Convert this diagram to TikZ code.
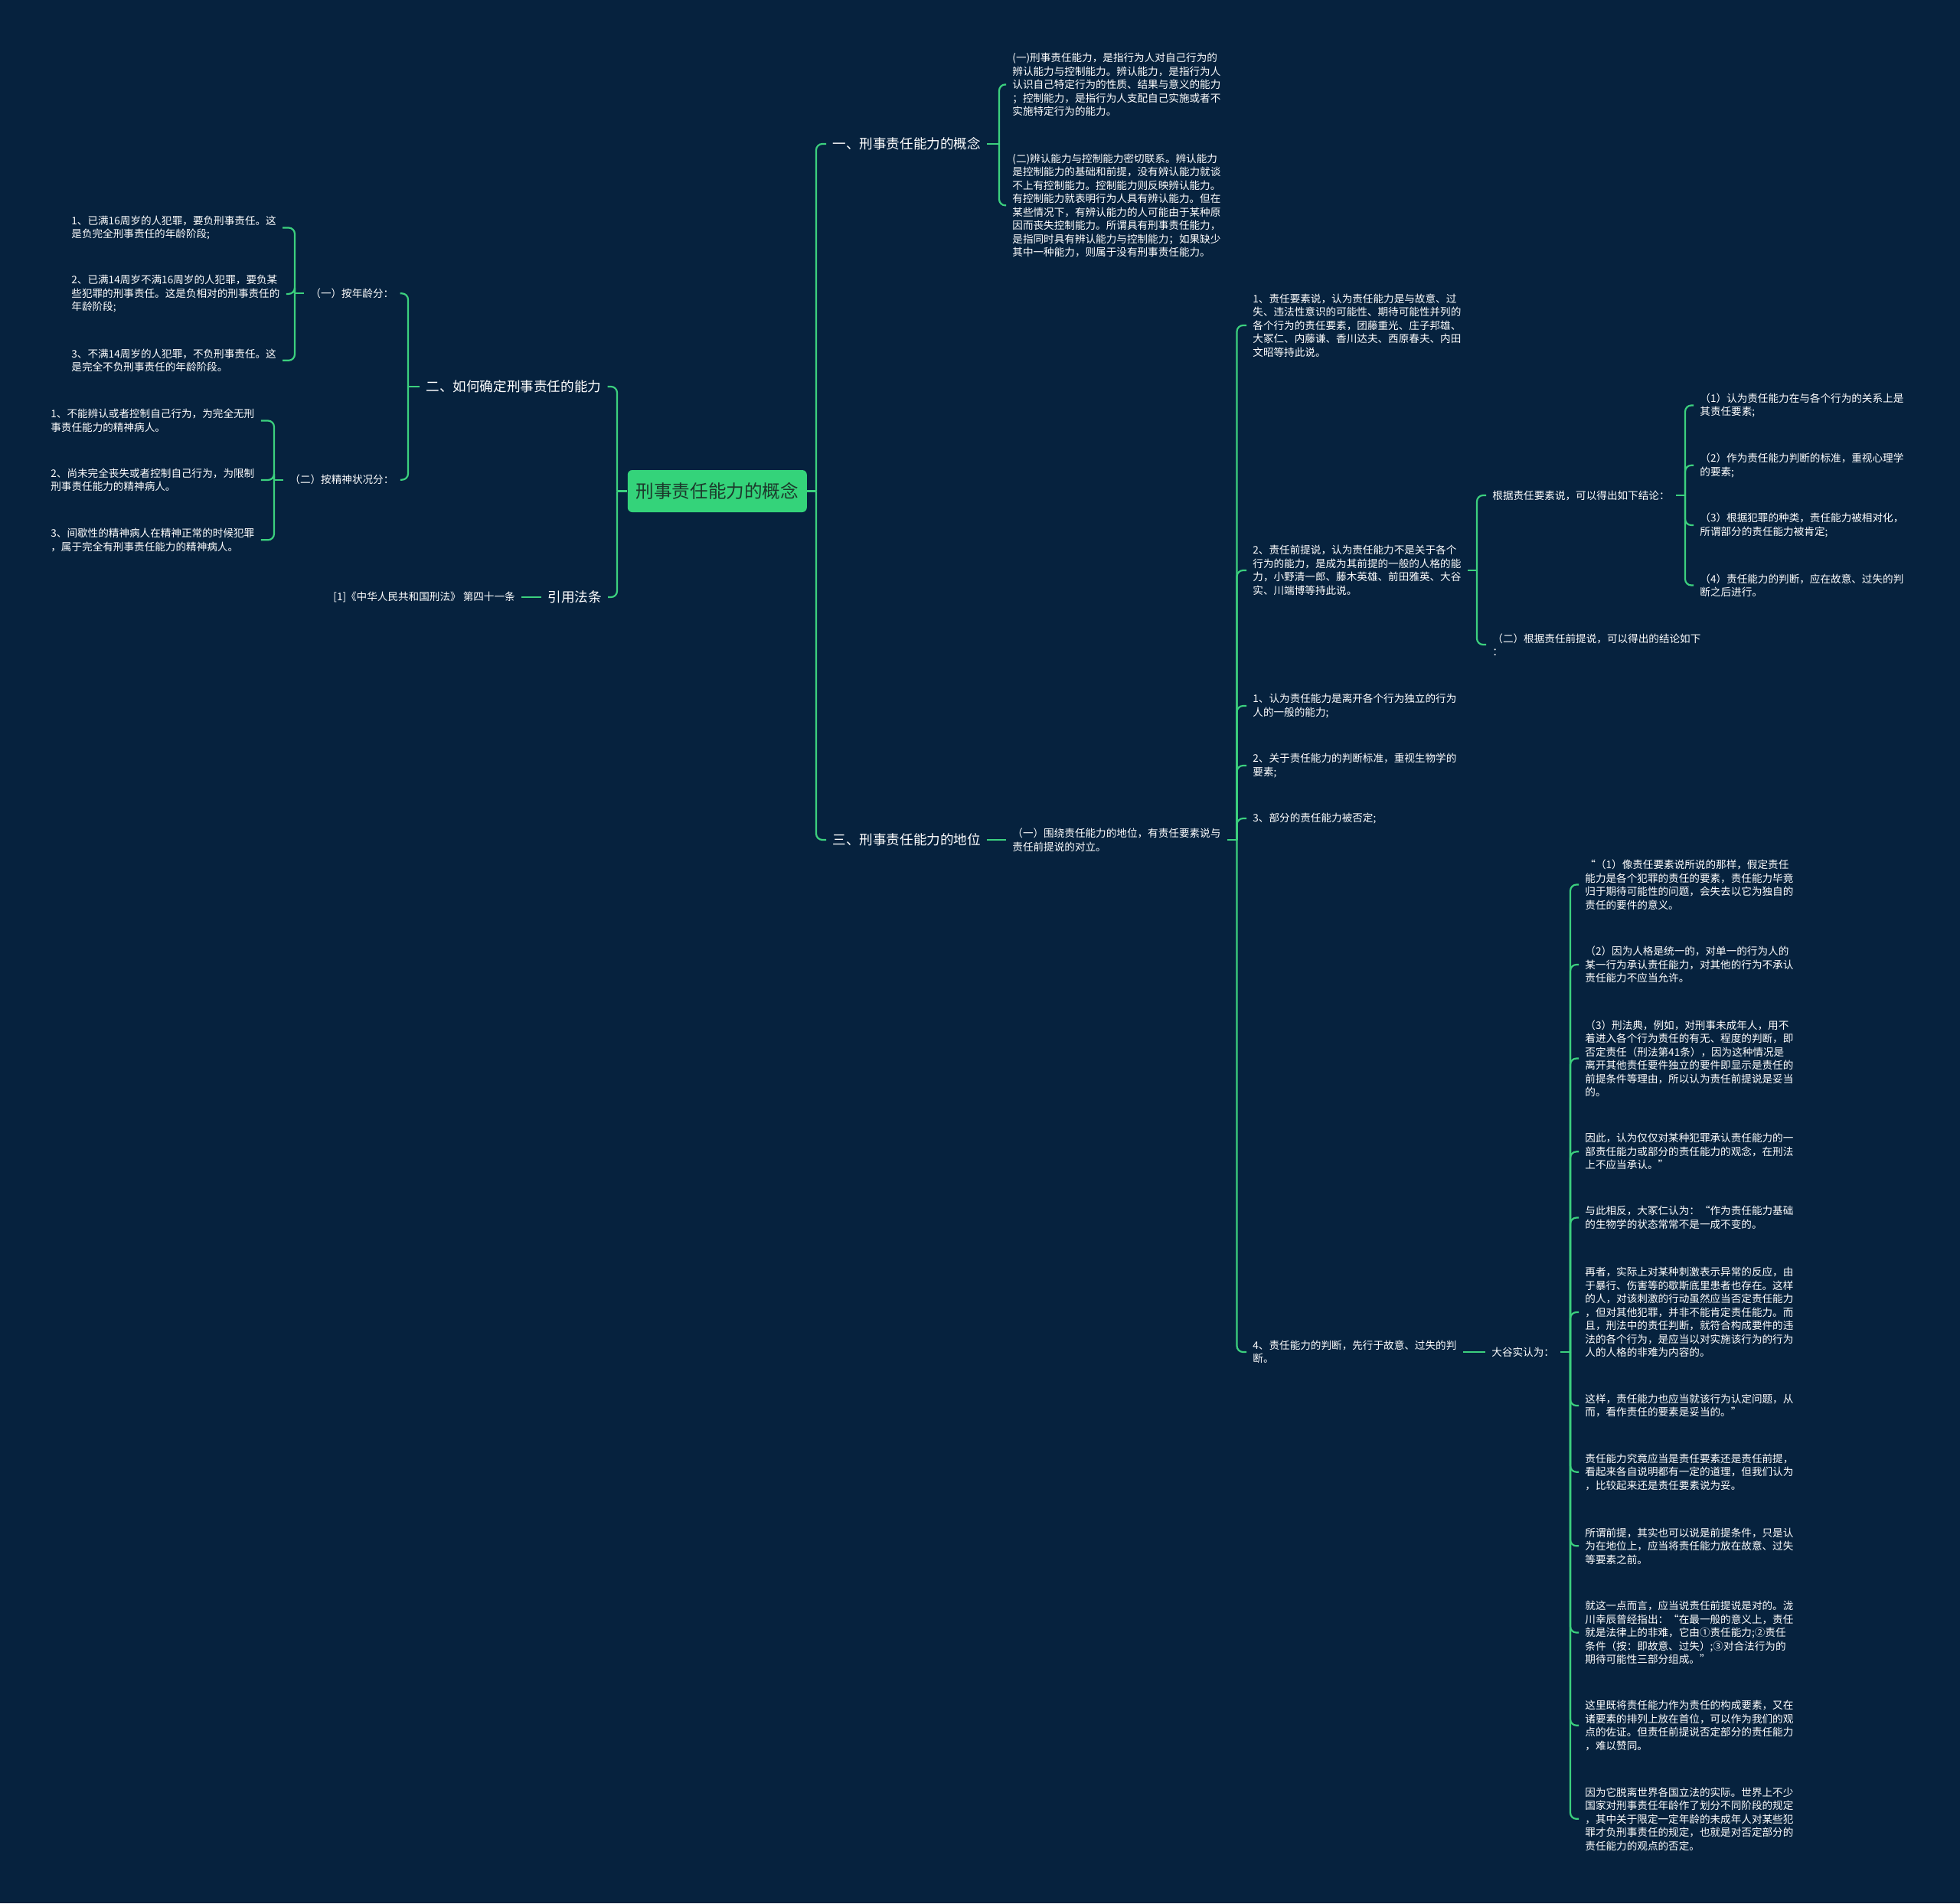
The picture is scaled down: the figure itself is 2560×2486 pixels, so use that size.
\documentclass[tikz,border=0pt]{standalone}
\usepackage{fontspec}
\setmainfont{Noto Sans CJK SC}
\definecolor{bg}{RGB}{6,34,62}
\definecolor{ln}{RGB}{60,208,126}
\definecolor{rootfill}{RGB}{52,211,122}
\definecolor{roottext}{RGB}{28,58,44}
\begin{document}
\begin{tikzpicture}[x=0.5pt,y=-0.5pt,
  txt/.style={text=white, font=\fontsize{6.8pt}{8.75pt}\selectfont, align=left, inner xsep=4pt, inner ysep=1pt, anchor=west},
  br/.style={text=white, font=\fontsize{8.8pt}{11pt}\selectfont, inner xsep=4pt, inner ysep=1pt, anchor=west},
  rootbox/.style={fill=rootfill, rounded corners=3pt, minimum width=117pt, minimum height=27.5pt, text=roottext, font=\fontsize{11.8pt}{14pt}\selectfont, inner sep=0pt},
  link/.style={draw=ln, line width=1.1pt, rounded corners=4pt}]
\fill[bg] (0,0) rectangle (2560,2486);
\useasboundingbox (0,0) rectangle (2560,2486);

% trunk x positions
\coordinate (T0) at (1066,0);
\coordinate (T1) at (1305,0);
\coordinate (T3) at (1615.5,0);
\coordinate (T4) at (1929,0);
\coordinate (T5) at (2201,0);
\coordinate (T6) at (2051,0);
\coordinate (L0) at (806,0);
\coordinate (L1) at (533,0);
\coordinate (L2) at (385,0);
\coordinate (L3) at (358,0);

\node[rootbox] (root) at (936.8,641.5) {刑事责任能力的概念};

% right side
\node[br] (b1) at (1079,188) {一、刑事责任能力的概念};
\node[br] (b3) at (1079,1097) {三、刑事责任能力的地位};

\node[txt] (c1a) at (1314,110.4) {(一)刑事责任能力，是指行为人对自己行为的\\辨认能力与控制能力。辨认能力，是指行为人\\认识自己特定行为的性质、结果与意义的能力\\；控制能力，是指行为人支配自己实施或者不\\实施特定行为的能力。};
\node[txt] (c1b) at (1314,268.3) {(二)辨认能力与控制能力密切联系。辨认能力\\是控制能力的基础和前提，没有辨认能力就谈\\不上有控制能力。控制能力则反映辨认能力。\\有控制能力就表明行为人具有辨认能力。但在\\某些情况下，有辨认能力的人可能由于某种原\\因而丧失控制能力。所谓具有刑事责任能力，\\是指同时具有辨认能力与控制能力；如果缺少\\其中一种能力，则属于没有刑事责任能力。};

\node[txt] (b3c) at (1314,1097) {（一）围绕责任能力的地位，有责任要素说与\\责任前提说的对立。};

\node[txt] (d1) at (1628,425) {1、责任要素说，认为责任能力是与故意、过\\失、违法性意识的可能性、期待可能性并列的\\各个行为的责任要素，团藤重光、庄子邦雄、\\大冢仁、内藤谦、香川达夫、西原春夫、内田\\文昭等持此说。};
\node[txt] (d2) at (1628,745) {2、责任前提说，认为责任能力不是关于各个\\行为的能力，是成为其前提的一般的人格的能\\力，小野清一郎、藤木英雄、前田雅英、大谷\\实、川端博等持此说。};
\node[txt] (d3) at (1628,922) {1、认为责任能力是离开各个行为独立的行为\\人的一般的能力;};
\node[txt] (d4) at (1628,1000) {2、关于责任能力的判断标准，重视生物学的\\要素;};
\node[txt] (d5) at (1628,1069) {3、部分的责任能力被否定;};
\node[txt] (d6) at (1628,1766) {4、责任能力的判断，先行于故意、过失的判\\断。};

\node[txt] (e1) at (1941,647) {根据责任要素说，可以得出如下结论：};
\node[txt] (e2) at (1941,842) {（二）根据责任前提说，可以得出的结论如下\\：};

\node[txt] (f1) at (2212,529.5) {（1）认为责任能力在与各个行为的关系上是\\其责任要素;};
\node[txt] (f2) at (2212,607.8) {（2）作为责任能力判断的标准，重视心理学\\的要素;};
\node[txt] (f3) at (2212,686) {（3）根据犯罪的种类，责任能力被相对化，\\所谓部分的责任能力被肯定;};
\node[txt] (f4) at (2212,764.5) {（4）责任能力的判断，应在故意、过失的判\\断之后进行。};

\node[txt] (g) at (1940,1766) {大谷实认为：};

\node[txt] (h1) at (2062,1155.5) {“（1）像责任要素说所说的那样，假定责任\\能力是各个犯罪的责任的要素，责任能力毕竟\\归于期待可能性的问题，会失去以它为独自的\\责任的要件的意义。};
\node[txt] (h2) at (2062,1260) {（2）因为人格是统一的，对单一的行为人的\\某一行为承认责任能力，对其他的行为不承认\\责任能力不应当允许。};
\node[txt] (h3) at (2062,1382.5) {（3）刑法典，例如，对刑事未成年人，用不\\着进入各个行为责任的有无、程度的判断，即\\否定责任（刑法第41条），因为这种情况是\\离开其他责任要件独立的要件即显示是责任的\\前提条件等理由，所以认为责任前提说是妥当\\的。};
\node[txt] (h4) at (2062,1504.3) {因此，认为仅仅对某种犯罪承认责任能力的一\\部责任能力或部分的责任能力的观念，在刑法\\上不应当承认。”};
\node[txt] (h5) at (2062,1590.5) {与此相反，大冢仁认为：“作为责任能力基础\\的生物学的状态常常不是一成不变的。};
\node[txt] (h6) at (2062,1714) {再者，实际上对某种刺激表示异常的反应，由\\于暴行、伤害等的歇斯底里患者也存在。这样\\的人，对该刺激的行动虽然应当否定责任能力\\，但对其他犯罪，并非不能肯定责任能力。而\\且，刑法中的责任判断，就符合构成要件的违\\法的各个行为，是应当以对实施该行为的行为\\人的人格的非难为内容的。};
\node[txt] (h7) at (2062,1836) {这样，责任能力也应当就该行为认定问题，从\\而，看作责任的要素是妥当的。”};
\node[txt] (h8) at (2062,1922.7) {责任能力究竟应当是责任要素还是责任前提，\\看起来各自说明都有一定的道理，但我们认为\\，比较起来还是责任要素说为妥。};
\node[txt] (h9) at (2062,2019.3) {所谓前提，其实也可以说是前提条件，只是认\\为在地位上，应当将责任能力放在故意、过失\\等要素之前。};
\node[txt] (h10) at (2062,2132.5) {就这一点而言，应当说责任前提说是对的。泷\\川幸辰曾经指出：“在最一般的意义上，责任\\就是法律上的非难，它由①责任能力;②责任\\条件（按：即故意、过失）;③对合法行为的\\期待可能性三部分组成。”};
\node[txt] (h11) at (2062,2253.7) {这里既将责任能力作为责任的构成要素，又在\\诸要素的排列上放在首位，可以作为我们的观\\点的佐证。但责任前提说否定部分的责任能力\\，难以赞同。};
\node[txt] (h12) at (2062,2375.8) {因为它脱离世界各国立法的实际。世界上不少\\国家对刑事责任年龄作了划分不同阶段的规定\\，其中关于限定一定年龄的未成年人对某些犯\\罪才负刑事责任的规定，也就是对否定部分的\\责任能力的观点的否定。};

% left side
\node[br] (a) at (548,505) {二、如何确定刑事责任的能力};
\node[br] (r) at (707,780) {引用法条};
\node[txt] (r1) at (427,780) {[1]《中华人民共和国刑法》 第四十一条};

\node[txt] (a1) at (397,383.3) {（一）按年龄分：};
\node[txt] (a2) at (370,626.7) {（二）按精神状况分：};

\node[txt] (a11) at (85,297.5) {1、已满16周岁的人犯罪，要负刑事责任。这\\是负完全刑事责任的年龄阶段;};
\node[txt] (a12) at (85,383.9) {2、已满14周岁不满16周岁的人犯罪，要负某\\些犯罪的刑事责任。这是负相对的刑事责任的\\年龄阶段;};
\node[txt] (a13) at (85,470.8) {3、不满14周岁的人犯罪，不负刑事责任。这\\是完全不负刑事责任的年龄阶段。};

\node[txt] (a21) at (58,549.5) {1、不能辨认或者控制自己行为，为完全无刑\\事责任能力的精神病人。};
\node[txt] (a22) at (58,627) {2、尚未完全丧失或者控制自己行为，为限制\\刑事责任能力的精神病人。};
\node[txt] (a23) at (58,705.3) {3、间歇性的精神病人在精神正常的时候犯罪\\，属于完全有刑事责任能力的精神病人。};

% connectors right
\draw[link] (root.east) -- (root.east -| T0);
\foreach \c in {b1,b3} \draw[link] (root.east -| T0) |- (\c.west);
\draw[link] (b1.east) -- (b1.east -| T1);
\foreach \c in {c1a,c1b} \draw[link] (b1.east -| T1) |- (\c.west);
\draw[link] (b3.east) -- (b3c.west);
\draw[link] (b3c.east) -- (b3c.east -| T3);
\foreach \c in {d1,d2,d3,d4,d5,d6} \draw[link] (b3c.east -| T3) |- (\c.west);
\draw[link] (d2.east) -- (d2.east -| T4);
\foreach \c in {e1,e2} \draw[link] (d2.east -| T4) |- (\c.west);
\draw[link] (e1.east) -- (e1.east -| T5);
\foreach \c in {f1,f2,f3,f4} \draw[link] (e1.east -| T5) |- (\c.west);
\draw[link] (d6.east) -- (g.west);
\draw[link] (g.east) -- (g.east -| T6);
\foreach \c in {h1,h2,h3,h4,h5,h6,h7,h8,h9,h10,h11,h12} \draw[link] (g.east -| T6) |- (\c.west);

% connectors left
\draw[link] (root.west) -- (root.west -| L0);
\foreach \c in {a,r} \draw[link] (root.west -| L0) |- (\c.east);
\draw[link] (a.west) -- (a.west -| L1);
\foreach \c in {a1,a2} \draw[link] (a.west -| L1) |- (\c.east);
\draw[link] (a1.west) -- (a1.west -| L2);
\foreach \c in {a11,a12,a13} \draw[link] (a1.west -| L2) |- (\c.east);
\draw[link] (a2.west) -- (a2.west -| L3);
\foreach \c in {a21,a22,a23} \draw[link] (a2.west -| L3) |- (\c.east);
\draw[link] (r.west) -- (r1.east);
\end{tikzpicture}
\end{document}
